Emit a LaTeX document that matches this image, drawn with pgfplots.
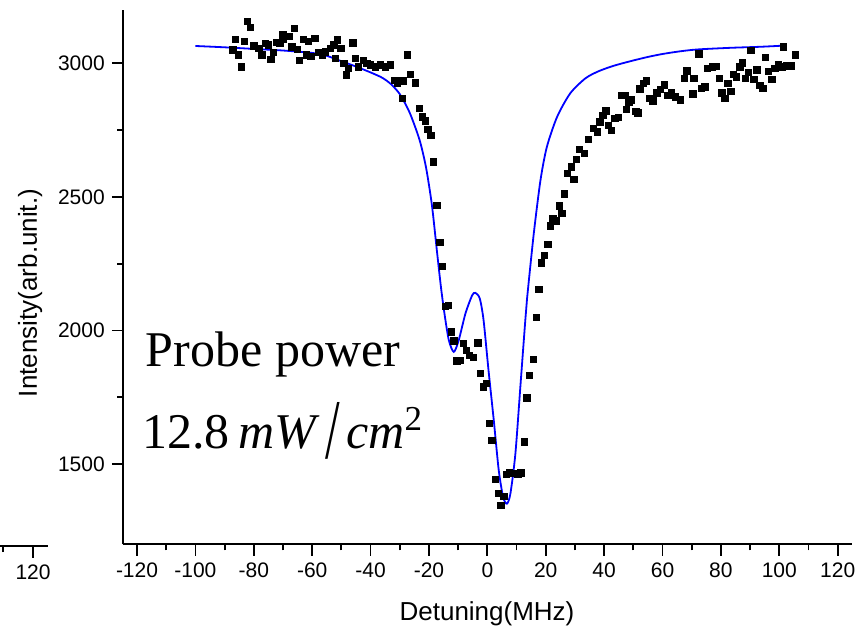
\documentclass[border=0pt]{standalone}
\usepackage{fontspec}
\setmainfont{Liberation Sans}
\newfontfamily\timesfont{Liberation Serif}
\usepackage{graphicx}
\usepackage{pgfplots}
\pgfplotsset{compat=1.18}

% measured data (black squares)
\pgfplotstableread{
x y
-87.1 3050
-86.3 3090
-85.2 3031
-84.2 2987
-83.2 3081
-82.1 3156
-81.2 3135
-80.0 3066
-78.3 3056
-77.2 3031
-76.0 3075
-74.9 3069
-74.1 3015
-73.2 3040
-72.3 3079
-71.1 3075
-70.1 3106
-69.8 3090
-68.0 3100
-66.9 3062
-66.1 3131
-65.0 3052
-64.3 3010
-63.1 3090
-62.0 3031
-61.2 3081
-60.4 3025
-59.1 3094
-57.8 3040
-56.6 3031
-55.5 3043
-53.8 3056
-52.6 3069
-52.1 3019
-51.4 3087
-50.1 3056
-49.2 3000
-48.3 2956
-47.5 2981
-46.1 3077
-45.2 3019
-44.1 2987
-42.4 3010
-41.2 3000
-40.1 2994
-38.4 2987
-36.6 2994
-34.9 2987
-33.2 2994
-31.8 2937
-30.9 2925
-30.4 2937
-29.2 2869
-28.7 2935
-27.3 3031
-26.4 2959
-24.7 2927
-23.3 2831
-22.2 2800
-21.2 2785
-20.4 2753
-19.3 2731
-18.4 2631
-17.3 2469
-16.3 2330
-15.3 2239
-14.4 2091
-13.3 2095
-12.3 1995
-11.5 1961
-10.4 1886
-9.2 1889
-8.3 1951
-7.2 1926
-6.1 1908
-4.7 1899
-3.3 1954
-2.4 1839
-1.3 1789
-0.3 1802
0.7 1652
1.6 1589
2.7 1442
3.7 1390
4.7 1346
5.6 1380
6.5 1462
7.6 1467
9.0 1465
10.4 1462
11.5 1467
12.7 1583
13.6 1748
14.5 1833
15.7 1891
16.7 2049
17.6 2154
18.5 2253
19.6 2282
20.7 2323
21.6 2391
22.5 2420
23.6 2411
24.7 2467
25.6 2438
26.4 2511
27.5 2588
28.7 2613
29.6 2566
30.5 2640
31.6 2678
33.2 2663
34.7 2715
36.4 2757
37.6 2744
38.5 2781
39.6 2806
40.6 2822
41.5 2767
42.5 2748
43.7 2794
44.8 2798
45.9 2881
47.1 2881
47.6 2828
48.5 2856
49.1 2863
50.9 2821
51.5 2815
52.2 2904
53.5 2925
54.5 2935
55.6 2869
56.7 2859
58.1 2889
59.2 2903
60.6 2919
61.8 2881
63.0 2891
64.4 2875
66.1 2863
67.5 2944
68.4 2971
70.4 2885
70.7 2944
72.4 3035
73.3 2906
74.5 2912
75.3 2981
77.0 2986
78.4 2989
79.5 2944
80.4 2890
81.3 2869
82.4 2925
83.4 2894
84.2 2958
85.4 2949
86.5 2987
87.4 3001
88.4 2944
89.5 2967
90.3 3049
91.3 2940
92.3 2975
93.4 2917
94.4 2906
95.2 3022
96.3 2969
97.5 2940
98.5 2982
99.7 2994
101.0 2987
101.3 3062
102.6 2990
104.1 2990
105.5 3031
}\measured

% fitted curve (blue)
\pgfplotstableread{
x y
-100 3065
-90 3060
-80 3054
-70 3048
-60 3039
-55 3028
-50 3008
-45 2988
-40 2966
-36 2946
-33 2922
-30 2885
-27 2825
-25 2770
-23 2705
-21 2610
-19 2470
-17.2 2290
-15.9 2163
-14.7 2064
-13.2 1964
-11.5 1920
-9.8 1964
-7.5 2064
-5.2 2132
-4.1 2141
-2.6 2120
-1.3 2039
0.4 1851
2.2 1664
3.9 1477
5.4 1377
6.7 1352
7.9 1390
9.6 1539
11.3 1789
13.0 2039
13.6 2120
15.9 2363
18.2 2563
20.4 2688
23.9 2800
28.4 2888
33.6 2944
38 2970
43 2990
49 3008
55 3024
60 3035
66 3045
72 3052
83 3058
93.5 3062
101.0 3066
}\fitted

\begin{document}
\begin{tikzpicture}
\path[use as bounding box] (-61.65pt,-41.85pt) rectangle ++(430pt,314pt);

% fragment of the neighbouring panel at the far left
\begin{axis}[
  at={(-61.65pt,-0.85pt)}, anchor=south west,
  scale only axis, width=24pt, height=10pt,
  xmin=108.9, xmax=125, ymin=0, ymax=1,
  axis x line=bottom, hide y axis,
  axis line style={-, line width=0.9pt},
  xtick={120}, minor xtick={110},
  tick align=outside, major tick length=5.75pt, minor tick length=3pt,
  tick style={line width=0.9pt, black},
  xticklabel style={font=\fontsize{10.5}{12}\selectfont},
  /pgf/number format/assume math mode=true,
]
\addplot[draw=none] coordinates {(115,0.5)};
\end{axis}

\begin{axis}[
  at={(0,0)}, anchor=south west,
  scale only axis, width=364.2pt, height=267.2pt,
  xmin=-124.7, xmax=124.8, ymin=1200, ymax=3200,
  axis x line=bottom, axis y line=left,
  axis line style={-, line width=0.9pt},
  xtick={-120,-100,...,120}, minor x tick num=1,
  ytick={1500,2000,2500,3000}, minor y tick num=1,
  tick align=outside, major tick length=5.75pt, minor tick length=3pt,
  tick style={line width=0.9pt, black},
  ticklabel style={font=\fontsize{10.5}{12}\selectfont},
  /pgf/number format/assume math mode=true,
  /pgf/number format/set thousands separator={},
  clip=false,
]
\addplot[blue, line width=0.9pt, smooth, tension=0.45] table {\fitted};
\addplot[only marks, mark=square*, mark size=1.6pt, black] table {\measured};

\node[anchor=base west, inner sep=0pt, font=\timesfont\fontsize{25}{30}\selectfont]
  at (axis cs:-117.1,1866) {Probe power};
\node[anchor=base west, inner sep=0pt, font=\timesfont\fontsize{25}{30}\selectfont]
  at (axis cs:-118.3,1560) {12.8\,\textit{mW}\kern0.12em\raisebox{-0.2em}{\scalebox{1.05}[1.7]{/}}\kern0.12em\textit{cm}\textsuperscript{2}};
\end{axis}

\node[anchor=base, font=\fontsize{13}{15}\selectfont] at (181.85pt,-37.85pt) {Detuning(MHz)};
\node[anchor=base, rotate=90, font=\fontsize{13}{15}\selectfont] at (-43.15pt,125.65pt) {Intensity(arb.unit.)};
\end{tikzpicture}
\end{document}
